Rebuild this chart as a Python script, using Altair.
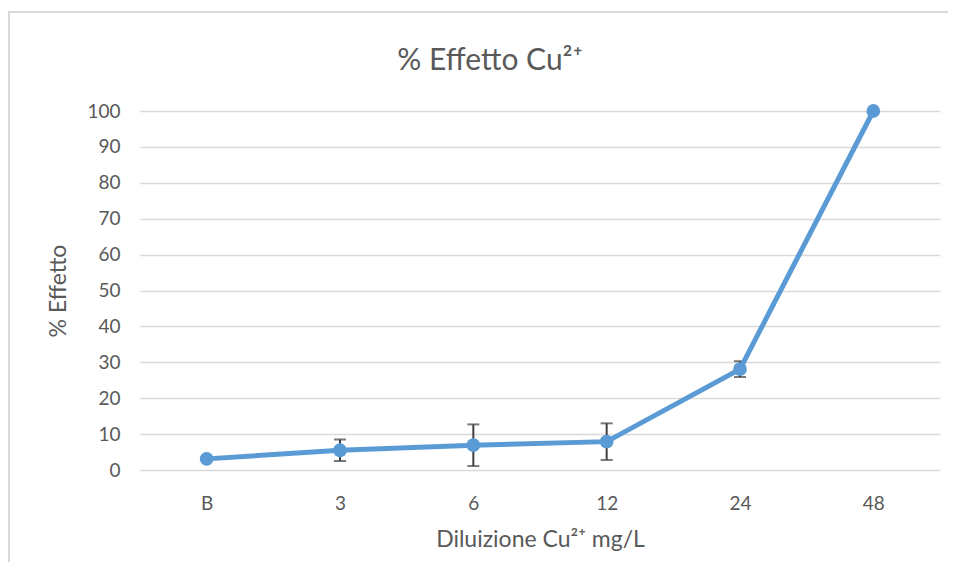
import altair as alt
import pandas as pd

categories = ["B", "3", "6", "12", "24", "48"]
effect = [3.1, 5.5, 6.9, 7.9, 28.1, 100.0]
err = [0.5, 3.0, 5.8, 5.1, 2.2, 0.0]
y_ticks = list(range(0, 101, 10))

df = pd.DataFrame({
    "cat": categories,
    "val": effect,
    "lo": [v - e for v, e in zip(effect, err)],
    "hi": [v + e for v, e in zip(effect, err)],
})

FONT = "Lato"
TEXT = "#595959"
BLUE = "#5B9BD5"
ERR = "#404040"

x = alt.X("cat:N", sort=categories,
          scale=alt.Scale(type="point", padding=0.5),
          axis=alt.Axis(title="Diluizione Cu²⁺ mg/L", labelAngle=0,
                        labelFontSize=19, labelColor=TEXT, labelFont=FONT,
                        labelPadding=24, ticks=False, domain=False, grid=False,
                        titleFontSize=23, titleColor=TEXT, titleFont=FONT,
                        titleFontWeight="normal", titlePadding=15))
yscale = alt.Scale(domain=[0, 100], nice=False)
yaxis = alt.Axis(title="% Effetto", values=y_ticks, labelOverlap=False,
                 grid=True, gridColor="#D9D9D9", gridWidth=1.5,
                 ticks=False, domain=False,
                 labelFontSize=19, labelColor=TEXT, labelFont=FONT,
                 labelPadding=20,
                 titleFontSize=23, titleColor=TEXT, titleFont=FONT,
                 titleFontWeight="normal", titlePadding=16)

def Y(field):
    return alt.Y(field, scale=yscale, axis=yaxis, title="% Effetto")

base = alt.Chart(df)

errbar = base.mark_rule(color=ERR, strokeWidth=2).encode(
    x=x, y=Y("lo:Q"), y2="hi:Q")
cap_lo = base.mark_tick(color=ERR, thickness=2, size=12).encode(
    x=x, y=Y("lo:Q"))
cap_hi = base.mark_tick(color=ERR, thickness=2, size=12).encode(
    x=x, y=Y("hi:Q"))
line = base.mark_line(color=BLUE, strokeWidth=5).encode(
    x=x, y=Y("val:Q"))
pts = base.mark_circle(color=BLUE, size=190, opacity=1).encode(
    x=x, y=Y("val:Q"))

one = pd.DataFrame({"a": [0]})
title = alt.Chart(one).mark_text(
    text="% Effetto Cu²⁺", font=FONT, fontSize=30, color=TEXT,
    align="center", baseline="middle").encode(
    x=alt.value(350), y=alt.value(-50))

# chart-area border (top and left edges visible; right/bottom beyond the frame)
border_top = alt.Chart(one).mark_rect(color="#D9D9D9").encode(
    x=alt.value(-132), x2=alt.value(830), y=alt.value(-100), y2=alt.value(-98))
border_left = alt.Chart(one).mark_rect(color="#D9D9D9").encode(
    x=alt.value(-132), x2=alt.value(-130), y=alt.value(-100), y2=alt.value(460))

chart = alt.layer(border_top, border_left, title, errbar, cap_lo, cap_hi, line, pts).properties(
    width=800, height=359,
    autosize=alt.AutoSizeParams(type="none"),
    padding={"left": 132, "top": 103, "right": 8, "bottom": 92},
).configure(background="white").configure_view(stroke=None)

chart.save("out.html", embed_options={"renderer": "svg", "actions": False})
